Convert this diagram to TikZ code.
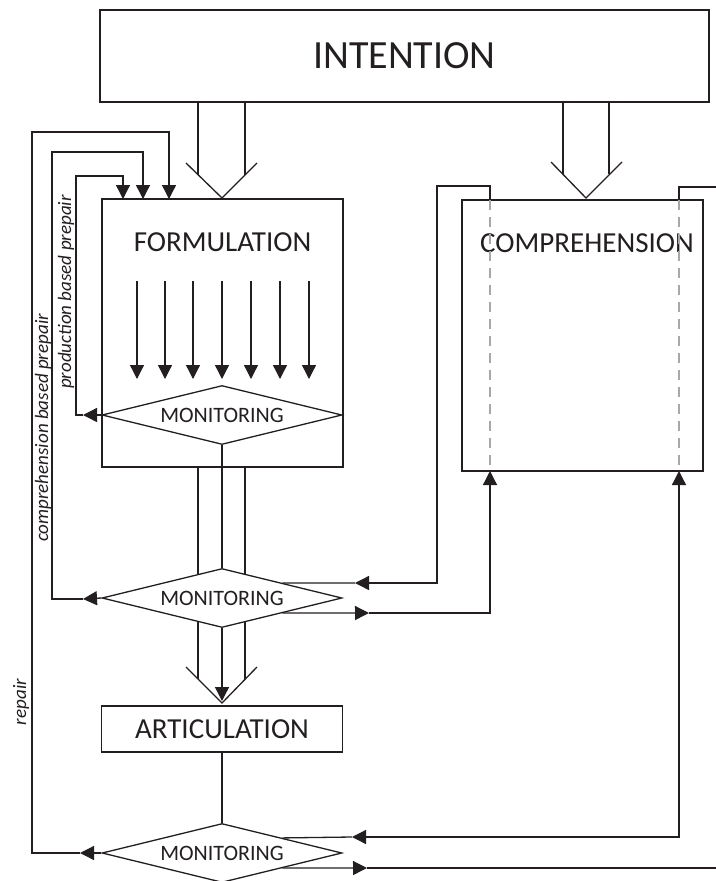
\documentclass[tikz,border=0pt]{standalone}
\usepackage{fontspec}
\setmainfont{Carlito}
\usetikzlibrary{arrows.meta,shapes.geometric}
\definecolor{ink}{HTML}{231F20}
\definecolor{dashgray}{HTML}{A8A8A8}
\begin{document}
\begin{tikzpicture}[x=1pt,y=-1pt,
  ln/.style={line width=1.3pt, draw=ink, line join=miter},
  arr/.style={-{Triangle[length=14pt,width=14pt]}},
  arrb/.style={{Triangle[length=14pt,width=14pt]}-{Triangle[length=14pt,width=14pt]}},
  box/.style={draw=ink, line width=1.3pt, fill=white, inner sep=0pt},
  big/.style={font=\fontsize{29}{29}\selectfont, text=ink},
  mon/.style={draw=ink, line width=1.3pt, fill=white, diamond, aspect=4.05,
    minimum width=240pt, minimum height=59pt, inner sep=0pt,
    font=\fontsize{22}{22}\selectfont, text=ink},
  lbl/.style={font=\fontsize{19}{19}\selectfont\itshape, text=ink, inner sep=0pt},
  dsh/.style={draw=dashgray, line width=1.2pt, dash pattern=on 10pt off 7pt}]
\useasboundingbox (0,0) rectangle (715,881);
\fill[white] (0,0) rectangle (715,881);

% ---------- boxes ----------
\node[box, minimum width=609pt, minimum height=92pt, font=\fontsize{40}{40}\selectfont, text=ink]
  (int) at (404.5,56) {INTENTION};
\node[box, minimum width=241pt, minimum height=268pt] (form) at (222.5,333) {};
\node[big] (formt) at (222.5,242) {FORMULATION};
\node[box, minimum width=241pt, minimum height=271pt] (comp) at (582.5,335.5) {};
\node[big] (compt) at (587,243) {COMPREHENSION};
\node[box, minimum width=241pt, minimum height=46pt, big] (art) at (222,729) {ARTICULATION};

% ---------- dashed lines inside comprehension ----------
\coordinate (cdlt) at (490,200);
\coordinate (cdlb) at (490,471);
\coordinate (cdrt) at (679,200);
\coordinate (cdrb) at (679,471);
\draw[dsh] (cdlt) -- (cdlb);
\draw[dsh] (cdrt) -- (cdrb);

% ---------- intention -> formulation double arrow ----------
\coordinate (fa1) at (198,102);
\coordinate (fa2) at (245,102);
\coordinate (fa1e) at (198,175);
\coordinate (fa2e) at (245,175);
\coordinate (fvl) at (186,163);
\coordinate (fvt) at (222,198);
\coordinate (fvr) at (257,163);
\draw[ln] (fa1) -- (fa1e);
\draw[ln] (fa2) -- (fa2e);
\draw[ln] (fvl) -- (fvt) -- (fvr);

% ---------- intention -> comprehension double arrow ----------
\coordinate (ca1) at (563,102);
\coordinate (ca2) at (609,102);
\coordinate (ca1e) at (563,174);
\coordinate (ca2e) at (609,174);
\coordinate (cvl) at (551,162);
\coordinate (cvt) at (586,198);
\coordinate (cvr) at (622,162);
\draw[ln] (ca1) -- (ca1e);
\draw[ln] (ca2) -- (ca2e);
\draw[ln] (cvl) -- (cvt) -- (cvr);

% ---------- monitoring diamonds ----------
\node[mon] (m1) at (222,415) {MONITORING};
\node[mon] (m2) at (222,598) {MONITORING};
\node[mon] (m3) at (222,853) {MONITORING};

% ---------- arrows inside formulation ----------
\foreach \i/\x in {1/137,2/165,3/193,4/222,5/251,6/280,7/309}{
  \coordinate (ft\i) at (\x,281);
  \coordinate (fb\i) at (\x,379);
  \draw[ln,arr] (ft\i) -- (fb\i);
}

% ---------- formulation -> monitoring 2 ----------
\draw[ln] (m1.south) -- (m2.north);
\coordinate (s1t) at (198,467);
\coordinate (s1b) at (198,574);
\coordinate (s2t) at (245,467);
\coordinate (s2b) at (245,574);
\draw[ln] (s1t) -- (s1b);
\draw[ln] (s2t) -- (s2b);

% ---------- monitoring 2 -> articulation ----------
\coordinate (t1t) at (198,622);
\coordinate (t1b) at (198,679);
\coordinate (t2t) at (245,622);
\coordinate (t2b) at (245,679);
\coordinate (avl) at (186,667);
\coordinate (avt) at (222,703);
\coordinate (avr) at (257,667);
\coordinate (atip) at (222,701);
\draw[ln] (t1t) -- (t1b);
\draw[ln] (t2t) -- (t2b);
\draw[ln] (avl) -- (avt) -- (avr);
\draw[ln,arr] (m2.south) -- (atip);

% ---------- articulation -> monitoring 3 ----------
\draw[ln] (art.south) -- (m3.north);

% ---------- production based prepair ----------
\coordinate (pa) at (83,415);
\coordinate (pb) at (76,415);
\coordinate (pc) at (76,176);
\coordinate (pd) at (123,176);
\coordinate (pe) at (123,199);
\draw[ln,arr] (m1.west) -- (pa);
\draw[ln,arr] (pa) -- (pb) -- (pc) -- (pd) -- (pe);

% ---------- comprehension based prepair ----------
\coordinate (qa) at (83,599);
\coordinate (qb) at (52,599);
\coordinate (qc) at (52,152);
\coordinate (qd) at (143,152);
\coordinate (qe) at (143,199);
\draw[ln,arr] (m2.west) -- (qa);
\draw[ln,arr] (qa) -- (qb) -- (qc) -- (qd) -- (qe);

% ---------- repair ----------
\coordinate (ra) at (80,853);
\coordinate (rb) at (32,853);
\coordinate (rc) at (32,132);
\coordinate (rd) at (169,132);
\coordinate (re) at (169,199);
\draw[ln,arr] (m3.west) -- (ra);
\draw[ln,arr] (ra) -- (rb) -- (rc) -- (rd) -- (re);

% ---------- labels ----------
\node[lbl, rotate=90] (l1) at (43,428) {comprehension based prepair};
\node[lbl, rotate=90] (l2) at (66,292) {production based prepair};
\node[lbl, rotate=90] (l3) at (21,702) {repair};

% ---------- comprehension -> monitoring 2 ----------
\coordinate (ua) at (490,186);
\coordinate (ub) at (437,186);
\coordinate (uc) at (437,583);
\coordinate (ud) at (355,583);
\draw[ln,arr] (cdlt) -- (ua) -- (ub) -- (uc) -- (ud);
\draw[ln] (ud) -- (m2.north east);

% ---------- monitoring 2 -> comprehension ----------
\coordinate (va) at (369,613);
\coordinate (vb) at (490,613);
\draw[ln,arr] (m2.south east) -- (va);
\draw[ln,arr] (va) -- (vb) -- (cdlb);

% ---------- comprehension <-> monitoring 3 ----------
\coordinate (wa) at (352,837);
\coordinate (wb) at (679,837);
\draw[ln,arrb] (wa) -- (wb) -- (cdrb);
\draw[ln] (m3.north east) -- (wa);

% ---------- monitoring 3 -> out ----------
\coordinate (xa) at (367,868);
\coordinate (xb) at (716,868);
\draw[ln,arr] (m3.south east) -- (xa);
\draw[ln] (xa) -- (xb);

% ---------- comprehension top-right exit ----------
\coordinate (ya) at (679,187);
\coordinate (yb) at (716,187);
\draw[ln] (cdrt) -- (ya) -- (yb);
\end{tikzpicture}
\end{document}
